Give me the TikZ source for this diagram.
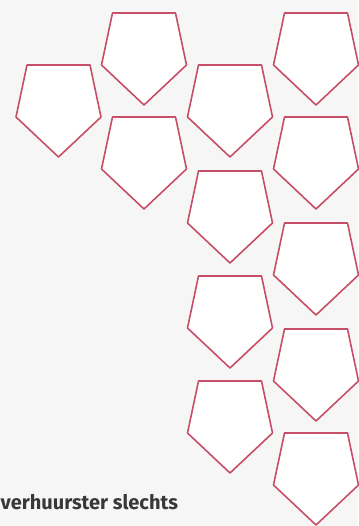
\documentclass[tikz,border=0pt]{standalone}
\usepackage{fontspec}
\setmainfont{Fira Sans}
\definecolor{vakrood}{HTML}{C64F67}
\definecolor{papier}{HTML}{F6F6F6}
\definecolor{inkt}{HTML}{383838}
\tikzset{vak/.style={draw=vakrood, line width=1.6pt, fill=white, line join=round}}
\begin{document}
\begin{tikzpicture}[x=1pt, y=-1pt]
  \fill[papier] (0,0) rectangle (358,526);
  \useasboundingbox (0,0) rectangle (358,526);
  % vijfhoeken: midden x / bovenkant y
  \foreach \x/\y in {58.5/65, 144/13, 144/117, 230/65, 230/171, 230/276, 230/381,
                     316/13, 316/117, 316/223, 316/329, 316/433}
    \draw[vak] (\x-31.5,\y) -- (\x+31.5,\y) -- (\x+42.5,\y+52) -- (\x,\y+92)
      -- (\x-42.5,\y+52) -- cycle;
  \node[anchor=base west, inner sep=0pt, text=inkt, font=\fontsize{20}{24}\selectfont\bfseries]
    (tekst) at (0.5,509) {verhuurster slechts};
\end{tikzpicture}
\end{document}
